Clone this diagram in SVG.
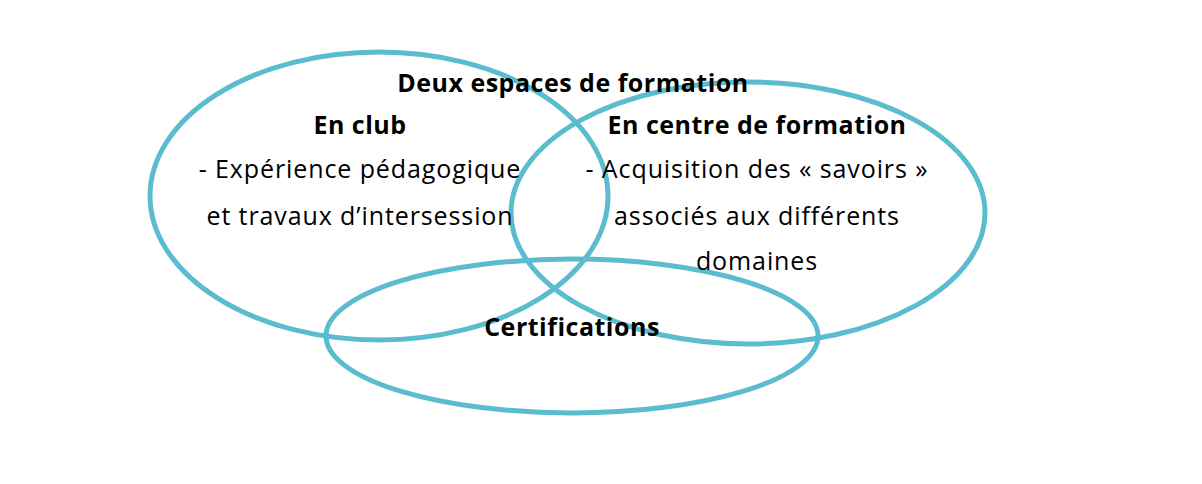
<svg xmlns="http://www.w3.org/2000/svg" width="1202" height="484" viewBox="0 0 1202 484">
<style>
.e{fill:none;stroke:#5bbcd0;stroke-width:5}
text{font-family:"Open Sans","Liberation Sans",sans-serif;font-size:25px;letter-spacing:0.9px;fill:#000;text-anchor:middle}
.b{font-weight:bold;letter-spacing:0.5px}
</style>
<rect width="1202" height="484" fill="#fff"/>
<g id="club"><ellipse class="e" cx="379" cy="196" rx="229" ry="144"/></g>
<g id="centre"><ellipse class="e" cx="748" cy="213" rx="237" ry="131"/></g>
<g id="certif"><ellipse class="e" cx="572" cy="336" rx="246" ry="77"/></g>
<g id="connectors"/>
<g id="labels">
<text class="b" x="573" y="92">Deux espaces de formation</text>
<text class="b" x="360" y="134">En club</text>
<text x="360" y="178">- Expérience pédagogique</text>
<text x="360" y="225">et travaux d’intersession</text>
<text class="b" x="757" y="134">En centre de formation</text>
<text x="757" y="178">- Acquisition des « savoirs »</text>
<text x="757" y="225">associés aux différents</text>
<text x="757" y="270">domaines</text>
<text class="b" x="572" y="336">Certifications</text>
</g>
</svg>
